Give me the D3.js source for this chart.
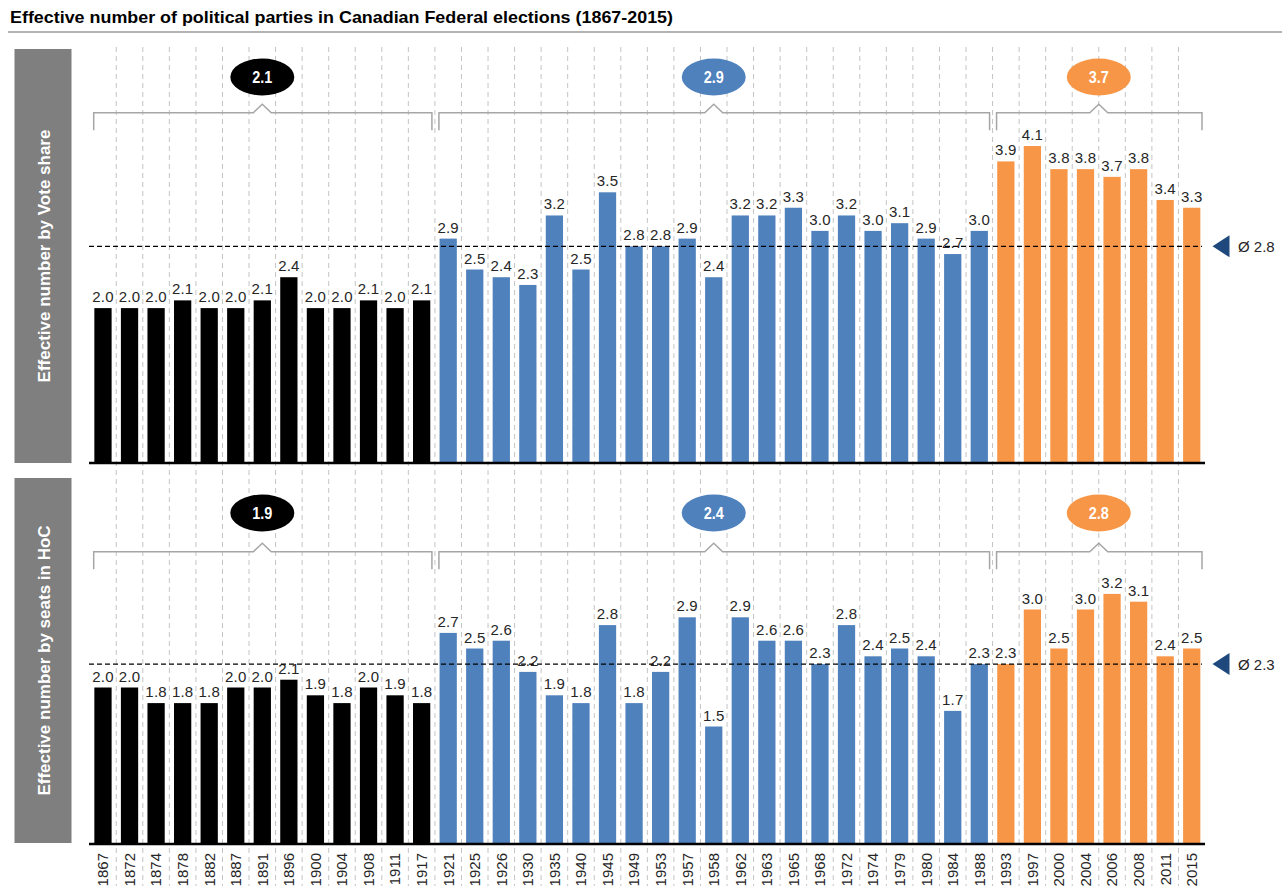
<!DOCTYPE html>
<html>
<head>
<meta charset="utf-8">
<script src="https://cdn.jsdelivr.net/npm/d3@7"></script>
<style>
  html, body { margin: 0; padding: 0; background: #fff; }
  svg { display: block; }
</style>
</head>
<body>
<svg id="chart" width="1288" height="890"></svg>
<script>
// Election years, grouped into three eras
const years = ["1867","1872","1874","1878","1882","1887","1891","1896","1900","1904","1908","1911","1917",
  "1921","1925","1926","1930","1935","1940","1945","1949","1953","1957","1958","1962","1963","1965","1968","1972","1974","1979","1980","1984","1988",
  "1993","1997","2000","2004","2006","2008","2011","2015"];
const eraSizes = [13, 21, 8];
const eraColors = ["#000000", "#4F81BD", "#F79646"];

// Effective number of parties by vote share
const voteShare = [2.0,2.0,2.0,2.1,2.0,2.0,2.1,2.4,2.0,2.0,2.1,2.0,2.1,
  2.9,2.5,2.4,2.3,3.2,2.5,3.5,2.8,2.8,2.9,2.4,3.2,3.2,3.3,3.0,3.2,3.0,3.1,2.9,2.7,3.0,
  3.9,4.1,3.8,3.8,3.7,3.8,3.4,3.3];
// Effective number of parties by seats in the House of Commons
const seatShare = [2.0,2.0,1.8,1.8,1.8,2.0,2.0,2.1,1.9,1.8,2.0,1.9,1.8,
  2.7,2.5,2.6,2.2,1.9,1.8,2.8,1.8,2.2,2.9,1.5,2.9,2.6,2.6,2.3,2.8,2.4,2.5,2.4,1.7,2.3,
  2.3,3.0,2.5,3.0,3.2,3.1,2.4,2.5];
// Era averages and overall averages
const eraAvgVote = [2.1, 2.9, 3.7];
const eraAvgSeats = [1.9, 2.4, 2.8];
const overallAvgVote = 2.8;
const overallAvgSeats = 2.3;

const titleText = "Effective number of political parties in Canadian Federal elections (1867-2015)";
const panelTitles = ["Effective number by Vote share", "Effective number by seats in HoC"];

const svg = d3.select("#chart");
const labelFont = "'Liberation Sans', Arial, sans-serif";
const narrowFont = "'Liberation Sans Narrow', 'Arial Narrow', 'Liberation Sans', Arial, sans-serif";

// era index for each year
const eraOf = [];
eraSizes.forEach((n, i) => { for (let k = 0; k < n; k++) eraOf.push(i); });
const eraStart = [];
eraSizes.reduce((acc, n, i) => { eraStart.push(acc); return acc + n; }, 0);

const x = d3.scaleBand().domain(years).range([89.7, 1205]).paddingInner(0.35).paddingOuter(0.175);
const step = x.step();
const boundary = i => x.range()[0] + i * step;

// Title and rule
svg.append("text")
  .attr("x", 10).attr("y", 23)
  .attr("font-family", narrowFont).attr("font-weight", "bold").attr("font-size", 16.5)
  .attr("fill", "#000")
  .attr("textLength", 663).attr("lengthAdjust", "spacingAndGlyphs")
  .text(titleText);
svg.append("line").attr("x1", 8).attr("x2", 1282).attr("y1", 32).attr("y2", 32)
  .attr("stroke", "#9a9a9a").attr("stroke-width", 1.5);

// Vertical dashed gridlines between categories
svg.append("g").selectAll("line")
  .data(d3.range(1, years.length))
  .join("line")
  .attr("x1", d => boundary(d)).attr("x2", d => boundary(d))
  .attr("y1", 47).attr("y2", 886)
  .attr("stroke", "#c4c4c4").attr("stroke-width", 1).attr("stroke-dasharray", "5,4");

const panels = [
  { values: voteShare, eraAvg: eraAvgVote, avg: overallAvgVote, base: 462.5, yMax: 5, top: 76.5,
    boxTop: 49, boxBottom: 463, ellipseY: 77, braceY: 112.7, title: panelTitles[0] },
  { values: seatShare, eraAvg: eraAvgSeats, avg: overallAvgSeats, base: 843.5, yMax: 4, top: 531.5,
    boxTop: 478, boxBottom: 843, ellipseY: 513, braceY: 551.7, title: panelTitles[1] }
];

panels.forEach(p => {
  const y = d3.scaleLinear().domain([0, p.yMax]).range([p.base, p.top]);
  const g = svg.append("g");

  // Grey side box with rotated title
  g.append("rect").attr("x", 14.5).attr("y", p.boxTop).attr("width", 57).attr("height", p.boxBottom - p.boxTop)
    .attr("fill", "#7f7f7f");
  g.append("text")
    .attr("transform", `translate(44,${(p.boxTop + p.boxBottom) / 2}) rotate(-90)`)
    .attr("text-anchor", "middle").attr("dy", "0.35em")
    .attr("font-family", labelFont).attr("font-weight", "bold").attr("font-size", 17)
    .attr("fill", "#fff")
    .text(p.title);

  // Bars
  g.append("g").selectAll("rect")
    .data(p.values)
    .join("rect")
    .attr("x", (d, i) => x(years[i]))
    .attr("width", x.bandwidth())
    .attr("y", d => y(d))
    .attr("height", d => y(0) - y(d))
    .attr("fill", (d, i) => eraColors[eraOf[i]]);

  // Value labels
  g.append("g").selectAll("text")
    .data(p.values)
    .join("text")
    .attr("x", (d, i) => x(years[i]) + x.bandwidth() / 2)
    .attr("y", d => y(d) - 6)
    .attr("text-anchor", "middle")
    .attr("font-family", labelFont).attr("font-size", 15).attr("letter-spacing", 0.2)
    .attr("fill", "#262626")
    .text(d => d.toFixed(1));

  // Overall average line
  g.append("line")
    .attr("x1", 89).attr("x2", 1202)
    .attr("y1", y(p.avg)).attr("y2", y(p.avg))
    .attr("stroke", "#000").attr("stroke-width", 1.3).attr("stroke-dasharray", "5,3");
  const ty = y(p.avg);
  g.append("path")
    .attr("d", `M1229.5,${ty - 11}L1229.5,${ty + 11}L1212.5,${ty}Z`)
    .attr("fill", "#1F497D");
  g.append("text")
    .attr("x", 1238).attr("y", ty).attr("dy", "0.36em")
    .attr("font-family", labelFont).attr("font-size", 15).attr("fill", "#262626")
    .text("Ø " + p.avg.toFixed(1));

  // Baseline axis
  g.append("line").attr("x1", 89).attr("x2", 1205).attr("y1", p.base + 0.5).attr("y2", p.base + 0.5)
    .attr("stroke", "#000").attr("stroke-width", 2.5);

  // Era braces and average bubbles
  eraSizes.forEach((n, e) => {
    const x0 = boundary(eraStart[e]) + 4;
    const x1 = boundary(eraStart[e] + n) - 3;
    const cx = (boundary(eraStart[e]) + boundary(eraStart[e] + n)) / 2;
    const by = p.braceY;
    g.append("path")
      .attr("d", `M${x0},${by + 17.5}V${by}H${cx - 9}L${cx},${by - 8.5}L${cx + 9},${by}H${x1}V${by + 17.5}`)
      .attr("fill", "none").attr("stroke", "#a6a6a6").attr("stroke-width", 1.5);
    g.append("ellipse")
      .attr("cx", cx).attr("cy", p.ellipseY).attr("rx", 32).attr("ry", 18.5)
      .attr("fill", eraColors[e]);
    g.append("text")
      .attr("transform", `translate(${cx},${p.ellipseY}) scale(0.85,1)`)
      .attr("dy", "0.36em")
      .attr("text-anchor", "middle")
      .attr("font-family", narrowFont).attr("font-weight", "bold").attr("font-size", 17)
      .attr("fill", "#fff")
      .text(p.eraAvg[e].toFixed(1));
  });
});

// Year labels under the lower panel
svg.append("g").selectAll("text")
  .data(years)
  .join("text")
  .attr("transform", d => `translate(${x(d) + x.bandwidth() / 2},853) rotate(-90)`)
  .attr("text-anchor", "end").attr("dy", "0.36em")
  .attr("font-family", labelFont).attr("font-size", 15).attr("fill", "#262626")
  .text(d => d);
</script>
</body>
</html>
